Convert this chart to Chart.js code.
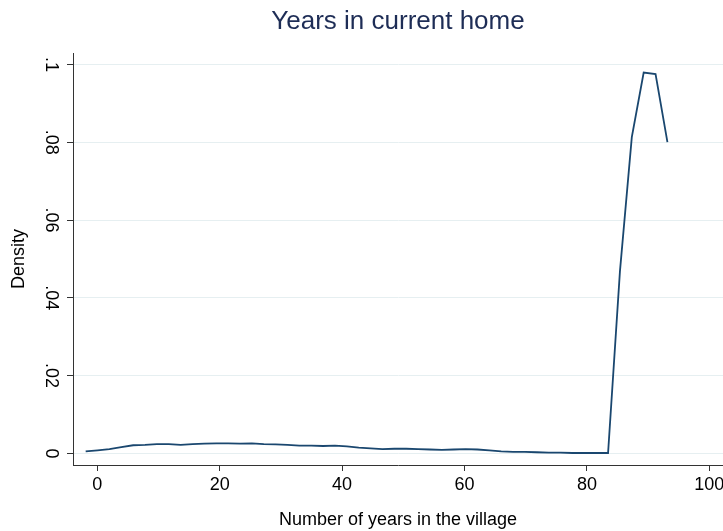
<!DOCTYPE html>
<html>
<head>
<meta charset="utf-8">
<script src="https://cdn.jsdelivr.net/npm/chart.js@4.4.1/dist/chart.umd.min.js"></script>
<style>
    html, body { margin: 0; padding: 0; background: #fff; }
</style>
</head>
<body>
<canvas id="densityChart" width="723" height="531"></canvas>
<script>
// kernel density estimate
const years = [-1.9, 0.04, 1.98, 3.92, 5.86, 7.8, 9.74, 11.68, 13.62, 15.56,
    17.5, 19.44, 21.38, 23.32, 25.26, 27.2, 29.14, 31.08, 33.02, 34.96,
    36.9, 38.84, 40.78, 42.72, 44.66, 46.6, 48.54, 50.48, 52.42, 54.36,
    56.3, 58.24, 60.18, 62.12, 64.06, 66.0, 67.94, 69.88, 71.82, 73.76,
    75.7, 77.64, 79.58, 81.52, 83.46, 85.4, 87.34, 89.28, 91.22, 93.16];
const density = [0.0005, 0.0008, 0.0011, 0.0016, 0.0021, 0.0022, 0.0024, 0.0024, 0.0022, 0.0024,
    0.0025, 0.0026, 0.0026, 0.0025, 0.0026, 0.0024, 0.0023, 0.0022, 0.0020, 0.0020,
    0.0019, 0.0020, 0.0018, 0.0015, 0.0013, 0.0011, 0.0012, 0.0012, 0.0011, 0.0010,
    0.0009, 0.0010, 0.0011, 0.0010, 0.0008, 0.0005, 0.0004, 0.0004, 0.0003, 0.0002,
    0.0002, 0.0001, 0.0001, 0.0001, 0.0001, 0.0468, 0.0813, 0.0979, 0.0975, 0.0800];

const xTicks = [0, 20, 40, 60, 80, 100];
const yTicks = [0, 0.02, 0.04, 0.06, 0.08, 0.1];
const yTickLabels = ['0', '.02', '.04', '.06', '.08', '.1'];

const FONT = '"Liberation Sans", Arial, sans-serif';
const axisColor = '#333';
const gridColor = '#e6eff1';

const canvas = document.getElementById('densityChart');

new Chart(canvas, {
    type: 'line',
    data: {
        datasets: [{
            data: years.map((x, i) => ({ x, y: density[i] })),
            borderColor: '#1a476f',
            borderWidth: 1.8,
            pointRadius: 0,
            tension: 0,
            fill: false,
        }],
    },
    options: {
        responsive: false,
        animation: false,
        layout: { padding: 0 },
        scales: {
            x: {
                type: 'linear',
                min: -3.97,
                max: 102.24,
                afterBuildTicks: (scale) => {
                    scale.ticks = xTicks.map(v => ({ value: v }));
                },
                afterFit: (scale) => {
                    scale.height = 66;
                    scale.paddingLeft = 0;
                    scale.paddingRight = 0;
                },
                border: { display: true, color: axisColor, width: 1 },
                grid: {
                    display: true,
                    drawOnChartArea: false,
                    drawTicks: true,
                    tickLength: 6,
                    tickColor: axisColor,
                },
                ticks: {
                    color: '#000',
                    font: { family: FONT, size: 18 },
                    padding: 3,
                    maxRotation: 0,
                    autoSkip: false,
                },
                title: {
                    display: true,
                    text: 'Number of years in the village',
                    color: '#000',
                    font: { family: FONT, size: 18 },
                    padding: { top: 0, bottom: 0.5 },
                },
            },
            y: {
                min: -0.00298,
                max: 0.10293,
                afterBuildTicks: (scale) => {
                    scale.ticks = yTicks.map(v => ({ value: v }));
                },
                afterFit: (scale) => {
                    scale.width = 73;
                    scale.paddingTop = 0;
                    scale.paddingBottom = 0;
                },
                border: { display: true, color: axisColor, width: 1 },
                grid: {
                    color: gridColor,
                    lineWidth: 1,
                    drawTicks: true,
                    tickLength: 6,
                    tickColor: axisColor,
                },
                ticks: {
                    color: '#000',
                    font: { family: FONT, size: 18 },
                    padding: 4,
                    minRotation: -90,
                    maxRotation: -90,
                    crossAlign: 'center',
                    autoSkip: false,
                    callback: (value, index) => yTickLabels[index],
                },
                title: {
                    display: true,
                    text: 'Density',
                    color: '#000',
                    font: { family: FONT, size: 18 },
                    padding: { top: 8.4, bottom: 0 },
                },
            },
        },
        plugins: {
            legend: { display: false },
            tooltip: { enabled: false },
            title: {
                display: true,
                fullSize: false,
                text: 'Years in current home',
                color: '#1e2d56',
                font: { family: FONT, size: 26, weight: 'normal' },
                padding: { top: 6, bottom: 15.8 },
            },
        },
    },
});
</script>
</body>
</html>
